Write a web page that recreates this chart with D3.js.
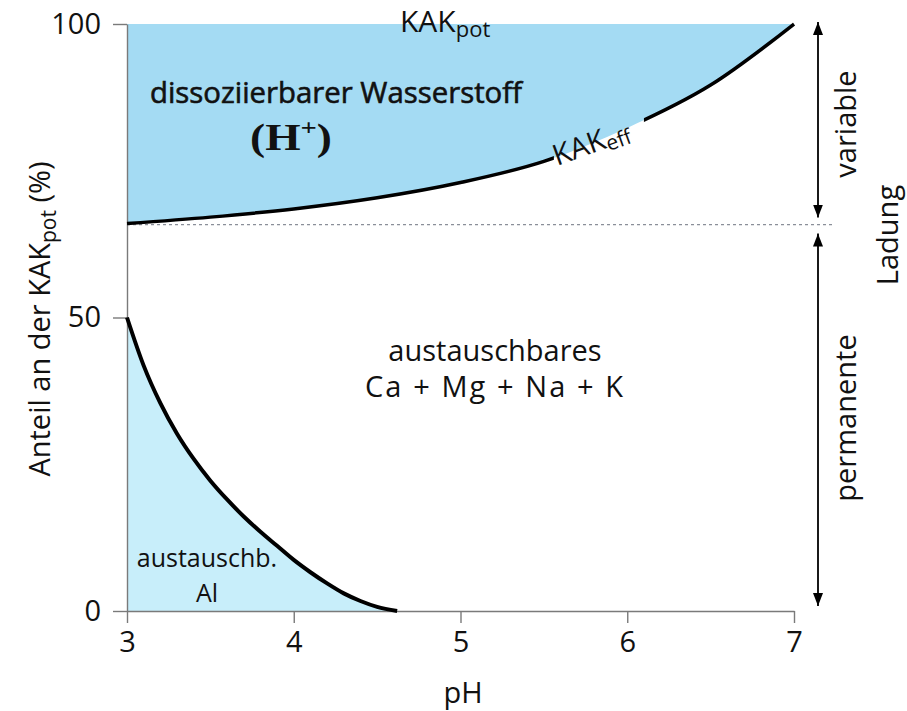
<!DOCTYPE html>
<html lang="de">
<head>
    <meta charset="UTF-8">
    <title>KAK und pH</title>
    <style>
        body {
            margin: 0;
            background: #fff;
        }
        text {
            font-family: "Open Sans", sans-serif;
            fill: #111;
        }
    </style>
</head>
<body>
    <script src="https://d3js.org/d3.v7.min.js"></script>
    <script type="text/javascript">
        // pH values and KAK_eff (% of KAK_pot)
        var phEff = [3.0, 3.5, 4.0, 4.5, 5.0, 5.5, 6.0, 6.5, 7.0];
        var kakEff = [66.0, 67.1, 68.5, 70.4, 73.0, 76.6, 82.3, 89.6, 100];

        // exchangeable Al (% of KAK_pot)
        var phAl = [3.0, 3.1, 3.2, 3.3, 3.4, 3.5, 3.6, 3.7, 3.8, 3.9, 4.0, 4.1, 4.2, 4.3, 4.4, 4.5, 4.62];
        var alVals = [50, 41.8, 35.4, 30.2, 25.9, 22.2, 19.0, 16.1, 13.5, 11.1, 8.7, 6.6, 4.7, 3.0, 1.7, 0.7, 0];

        var xTicks = [3, 4, 5, 6, 7];
        var yTicks = [0, 50, 100];
        var labelGap = [5.53, 6.13];   // where the KAK_eff label interrupts the line

        var width = 907, height = 711;

        var x = d3.scaleLinear().domain([3, 7]).range([127, 794]);
        var y = d3.scaleLinear().domain([0, 100]).range([611, 24]);

        var svg = d3.select("body").append("svg")
            .attr("width", width)
            .attr("height", height);

        var effData = phEff.map(function(p, i) { return { ph: p, v: kakEff[i] }; });
        var alData = phAl.map(function(p, i) { return { ph: p, v: alVals[i] }; });

        // blue area: dissociable hydrogen between KAK_eff and 100 %
        svg.append("path")
            .datum(effData)
            .attr("fill", "#a4dbf3")
            .attr("d", d3.area()
                .x(function(d) { return x(d.ph); })
                .y0(function(d) { return y(d.v); })
                .y1(y(100))
                .curve(d3.curveMonotoneX));

        // light blue area: exchangeable Al
        svg.append("path")
            .datum(alData)
            .attr("fill", "#c8eefa")
            .attr("d", d3.area()
                .x(function(d) { return x(d.ph); })
                .y0(y(0))
                .y1(function(d) { return y(d.v); })
                .curve(d3.curveMonotoneX));

        // dotted reference line at KAK_eff of pH 3
        svg.append("line")
            .attr("x1", x(3)).attr("x2", x(7) + 38)
            .attr("y1", y(kakEff[0]) + 1).attr("y2", y(kakEff[0]) + 1)
            .attr("stroke", "#8a8f99")
            .attr("stroke-width", 1.3)
            .attr("stroke-dasharray", "3,3");

        // axes
        var yAxis = svg.append("g")
            .attr("transform", "translate(" + x(3) + ",0)")
            .call(d3.axisLeft(y).tickValues(yTicks).tickSize(14).tickSizeOuter(0)
                .tickPadding(12).tickFormat(d3.format("d")));
        var xAxis = svg.append("g")
            .attr("transform", "translate(0," + y(0) + ")")
            .call(d3.axisBottom(x).tickValues(xTicks).tickSize(12).tickSizeOuter(0)
                .tickPadding(6).tickFormat(d3.format("d")));

        [yAxis, xAxis].forEach(function(g) {
            g.selectAll("path, line").attr("stroke", "#7a7a7a").attr("stroke-width", 1.4);
            g.selectAll("text")
                .attr("font-size", 29)
                .attr("font-family", "Open Sans, sans-serif")
                .attr("fill", "#111");
        });
        xAxis.selectAll("text").attr("dy", "0.8em");

        // clip for the KAK_eff line so the label sits in a gap
        svg.append("clipPath").attr("id", "gapClip")
            .selectAll("rect")
            .data([[3, labelGap[0]], [labelGap[1], 7]])
            .enter().append("rect")
            .attr("x", function(d) { return x(d[0]) - 5; })
            .attr("width", function(d) { return x(d[1]) - x(d[0]) + 10; })
            .attr("y", 0).attr("height", height);

        svg.append("path")
            .datum(effData)
            .attr("fill", "none")
            .attr("stroke", "#000")
            .attr("stroke-width", 3.5)
            .attr("clip-path", "url(#gapClip)")
            .attr("d", d3.line()
                .x(function(d) { return x(d.ph); })
                .y(function(d) { return y(d.v); })
                .curve(d3.curveMonotoneX));

        svg.append("path")
            .datum(alData)
            .attr("fill", "none")
            .attr("stroke", "#000")
            .attr("stroke-width", 4)
            .attr("d", d3.line()
                .x(function(d) { return x(d.ph); })
                .y(function(d) { return y(d.v); })
                .curve(d3.curveMonotoneX));

        // labels inside the chart
        var kp = svg.append("text").attr("x", 400).attr("y", 32).attr("font-size", 30);
        kp.append("tspan").text("KAK");
        kp.append("tspan").attr("font-size", 22).attr("dy", 5).text("pot");

        svg.append("text")
            .attr("x", 150).attr("y", 103)
            .attr("font-size", 29)
            .attr("stroke", "#111").attr("stroke-width", 0.6)
            .attr("textLength", 372).attr("lengthAdjust", "spacingAndGlyphs")
            .text("dissoziierbarer Wasserstoff");

        var hp = svg.append("text")
            .attr("x", 250).attr("y", 150)
            .attr("font-weight", "bold")
            .attr("font-size", 38)
            .attr("textLength", 82).attr("lengthAdjust", "spacingAndGlyphs")
            .style("font-family", "'Liberation Serif', serif");
        hp.append("tspan").text("(H");
        hp.append("tspan").attr("font-size", 24).attr("dy", -15).text("+");
        hp.append("tspan").attr("dy", 15).text(")");

        var ke = svg.append("text")
            .attr("transform", "translate(557,166) rotate(-20)")
            .attr("font-size", 29);
        ke.append("tspan").text("KAK");
        ke.append("tspan").attr("font-size", 21).attr("dy", 4).text("eff");

        svg.append("text")
            .attr("x", 495).attr("y", 361)
            .attr("text-anchor", "middle").attr("font-size", 29)
            .text("austauschbares");
        svg.append("text")
            .attr("x", 494).attr("y", 397)
            .attr("text-anchor", "middle").attr("font-size", 29)
            .attr("textLength", 258).attr("lengthAdjust", "spacing")
            .text("Ca + Mg + Na + K");

        svg.append("text")
            .attr("x", 207).attr("y", 567)
            .attr("text-anchor", "middle").attr("font-size", 25)
            .text("austauschb.");
        svg.append("text")
            .attr("x", 207).attr("y", 602)
            .attr("text-anchor", "middle").attr("font-size", 25)
            .text("Al");

        // axis titles
        svg.append("text")
            .attr("x", 463).attr("y", 703)
            .attr("text-anchor", "middle").attr("font-size", 29)
            .text("pH");

        var yl = svg.append("text")
            .attr("transform", "translate(50,319) rotate(-90)")
            .attr("text-anchor", "middle").attr("font-size", 29);
        yl.append("tspan").text("Anteil an der KAK");
        yl.append("tspan").attr("font-size", 21).attr("dy", 6).text("pot");
        yl.append("tspan").attr("dy", -6).text(" (%)");

        // double arrows on the right
        var defs = svg.append("defs");
        defs.append("marker").attr("id", "head")
            .attr("viewBox", "0 0 13 10").attr("refX", 13).attr("refY", 5)
            .attr("markerWidth", 13).attr("markerHeight", 10)
            .attr("markerUnits", "userSpaceOnUse")
            .attr("orient", "auto-start-reverse")
            .append("path").attr("d", "M0,0L13,5L0,10z").attr("fill", "#000");

        var ax = x(7) + 24;
        var arrows = [[y(100) - 2, y(kakEff[0]) - 6], [y(kakEff[0]) + 10, y(0) - 5]];
        svg.selectAll("line.arrow")
            .data(arrows).enter().append("line")
            .attr("class", "arrow")
            .attr("x1", ax).attr("x2", ax)
            .attr("y1", function(d) { return d[0]; })
            .attr("y2", function(d) { return d[1]; })
            .attr("stroke", "#000").attr("stroke-width", 1.8)
            .attr("marker-start", "url(#head)")
            .attr("marker-end", "url(#head)");

        svg.append("text")
            .attr("transform", "translate(856,124) rotate(-90)")
            .attr("text-anchor", "middle").attr("font-size", 29)
            .text("variable");
        svg.append("text")
            .attr("transform", "translate(856,418) rotate(-90)")
            .attr("text-anchor", "middle").attr("font-size", 29)
            .text("permanente");
        svg.append("text")
            .attr("transform", "translate(898,235) rotate(-90)")
            .attr("text-anchor", "middle").attr("font-size", 29)
            .text("Ladung");
    </script>
</body>
</html>
